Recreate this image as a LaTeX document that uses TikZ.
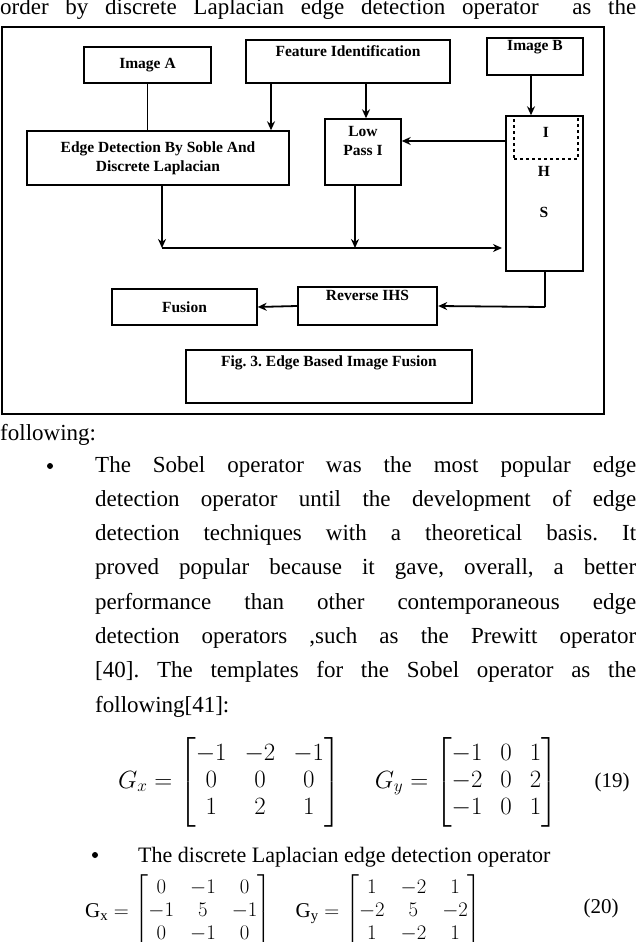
\documentclass[tikz,border=0pt]{standalone}
\usepackage{amsmath}
\usepackage{fontspec}
\setmainfont{Liberation Serif}
\usetikzlibrary{arrows.meta}
\frenchspacing
\begin{document}
\begin{tikzpicture}[x=1pt,y=1pt,
  box/.style={draw,line width=1.4pt,font=\fontsize{15.5}{19}\selectfont\bfseries,align=center,inner sep=0pt},
  arr/.style={line width=1.8pt,-{Stealth[length=9pt,width=8pt]}},
  ln/.style={line width=1.4pt},
  body/.style={anchor=base west,inner sep=0pt,font=\fontsize{23}{27}\selectfont}]
\useasboundingbox (0,0) rectangle (636,-942);
\fill[white] (0,0) rectangle (636,-942);
% top cut line
\node[body] (top) at (0,-15) {\makebox[636pt][s]{order by discrete Laplacian edge detection operator \ as the}};
% frame
\draw[line width=2pt] (2,-27) rectangle (604,-414);
\node[box,minimum width=127,minimum height=36] (a) at (147.5,-65) {Image A};
\node[box,minimum width=204,minimum height=43] (f) at (348,-61.5) {Feature Identification\\[2pt]};
\node[box,minimum width=96,minimum height=37] (b) at (535,-56.5) {Image B\\[4pt]};
\node[box,minimum width=262,minimum height=54] (e) at (158,-158) {Edge Detection By Soble And\\Discrete Laplacian};
\node[box,minimum width=76,minimum height=66] (lp) at (363,-152) {Low\\Pass I\\[4pt]};
\node[box,minimum width=77,minimum height=155] (ihs) at (544.5,-193.5) {};
\node[draw,dashed,line width=2pt,minimum width=64,minimum height=43,inner sep=0pt] (i) at (546,-137.5) {};
\node[font=\fontsize{15.5}{19}\selectfont\bfseries] (it) at (546,-132) {I};
\node[font=\fontsize{15.5}{19}\selectfont\bfseries] (h) at (544,-171) {H};
\node[font=\fontsize{15.5}{19}\selectfont\bfseries] (s) at (544,-212) {S};
\node[box,minimum width=145,minimum height=36] (fu) at (184.5,-307) {Fusion};
\node[box,line width=2.4pt,minimum width=139,minimum height=38] (r) at (367.5,-306) {Reverse IHS\\[2pt]};
\node[box,minimum width=286,minimum height=53] (cap) at (329,-376.5) {Fig. 3. Edge Based Image Fusion\\[12pt]};
% connectors
\draw[ln] (a.south) -- (e.north-|a.south);
\draw[arr] (f.south-|271,0) -- (e.north-|271,0);
\draw[arr] (f.south-|366,0) -- (lp.north-|366,0);
\draw[arr] (b.south-|531,0) -- (ihs.north-|531,0);
\draw[arr] (ihs.west|-0,-141) -- (lp.east|-0,-141);
\coordinate (hl) at (162,-248);
\coordinate (hr) at (502,-248);
\draw[arr] (hl) -- (hr);
\draw[arr] (e.south-|162,0) -- (hl);
\draw[arr] (lp.south-|355,0) -- (355,-248);
\coordinate (c1) at (545,-307);
\draw[ln] (ihs.south-|545,0) -- (c1);
\draw[arr] (c1) -- (r.east);
\draw[arr] (r.west) -- (fu.east);
% text
\node[body] (fol) at (0,-440) {following:};
\fill (50,-466) circle (3pt);
\foreach \t [count=\k] in {
 {The Sobel operator was the most popular edge},
 {detection operator until the development of edge},
 {detection techniques with a theoretical basis. It},
 {proved popular because it gave, overall, a better},
 {performance than other contemporaneous edge},
 {detection operators ,such as the Prewitt operator},
 {[40]. The templates for the Sobel operator as the}}
 \node[body] (l\k) at (95,{-472-34.3*(\k-1)}) {\makebox[541pt][s]{\t}};
\node[body] (l8) at (95,-712) {following[41]:};
% eq 19
\node[anchor=west,inner sep=0pt,font=\fontsize{23}{27}\selectfont] (e19) at (118,-782)
 {\setlength\arraycolsep{9pt}$G_x=\begin{bmatrix}-1&-2&-1\\0&0&0\\1&2&1\end{bmatrix}\quad\; G_y=\begin{bmatrix}-1&0&1\\-2&0&2\\-1&0&1\end{bmatrix}$};
\node[font=\fontsize{21}{25}\selectfont,inner sep=0pt] (n19) at (612,-782) {(19)};
% second bullet
\fill (95,-855) circle (3pt);
\node[body,font=\fontsize{22}{26}\selectfont] (l9) at (138,-862) {The discrete Laplacian edge detection operator};
\node[anchor=west,inner sep=0pt,font=\fontsize{21}{23}\selectfont] (e20) at (85,-912)
 {\setlength\arraycolsep{8pt}$\mathrm{G_x}=\begin{bmatrix}0&-1&0\\-1&5&-1\\0&-1&0\end{bmatrix}\quad \mathrm{G_y}=\begin{bmatrix}1&-2&1\\-2&5&-2\\1&-2&1\end{bmatrix}$};
\node[font=\fontsize{21}{25}\selectfont,inner sep=0pt] (n20) at (601,-908) {(20)};
\end{tikzpicture}
\end{document}
